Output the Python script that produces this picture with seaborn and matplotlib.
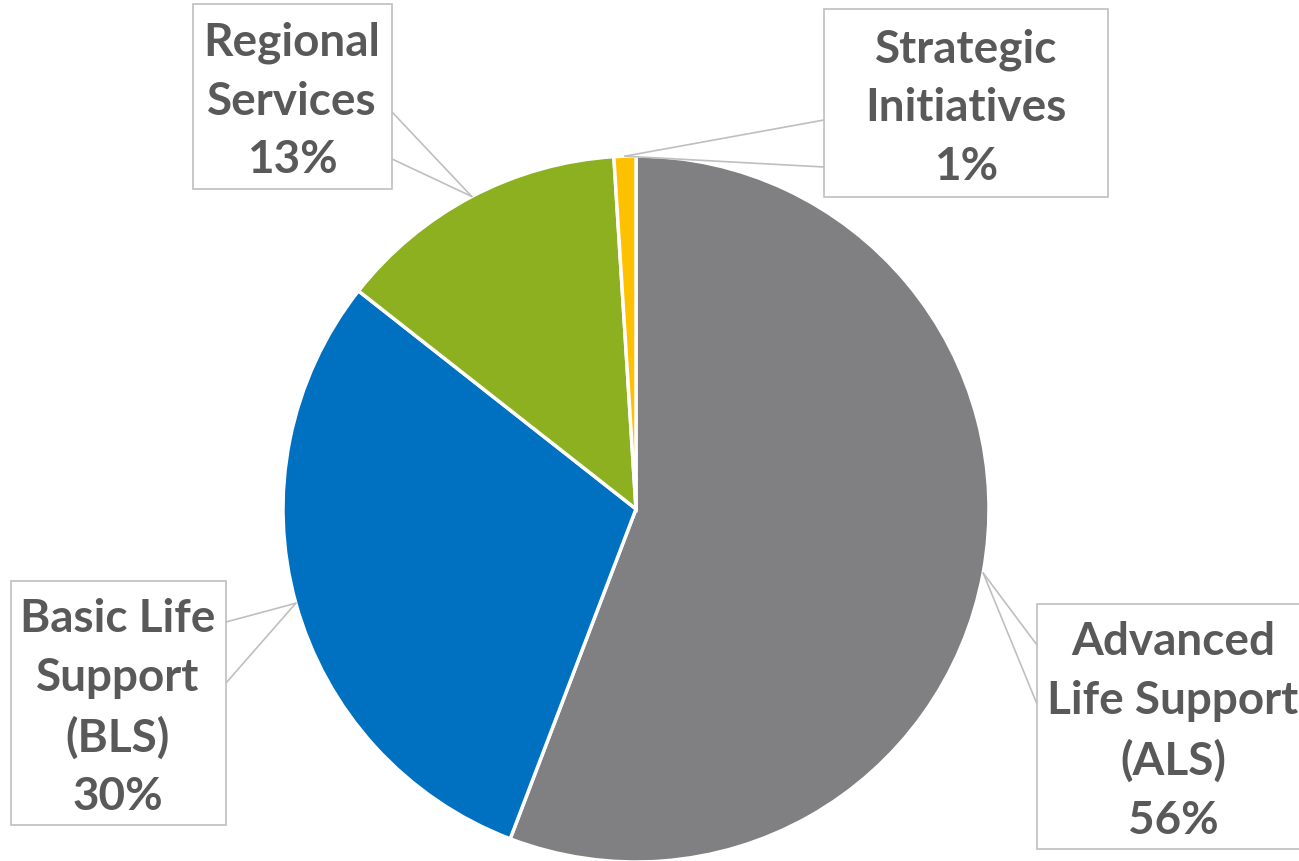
import numpy as np
import matplotlib.pyplot as plt
import seaborn as sns
from matplotlib.patches import Rectangle

categories = ["Advanced\nLife Support\n(ALS)", "Basic Life\nSupport\n(BLS)",
              "Regional\nServices", "Strategic\nInitiatives"]
shares = [55.8, 29.8, 13.4, 1.0]
colors = ["#808082", "#0070C0", "#8DB021", "#FFC000"]

sns.set_theme(style="white")
plt.rcParams["font.family"] = ["Lato", "DejaVu Sans"]

W, H = 1299, 862
fig = plt.figure(figsize=(W / 100, H / 100), dpi=100)
ax = fig.add_axes([0, 0, 1, 1])

cx, cy, r = 636, H - 510, 353
wedges, _ = ax.pie(shares, colors=colors, startangle=90, counterclock=False,
                   center=(cx, cy), radius=r, frame=True,
                   wedgeprops=dict(edgecolor="white", linewidth=2.5))
ax.set_xlim(0, W)
ax.set_ylim(0, H)
ax.set_aspect("equal")
ax.axis("off")

# label boxes: (left, top, right, bottom) in pixels from top, leader side, leader y's
boxes = [
    ((1037, 605, 1320, 850), "left", (646, 705)),
    ((11, 582, 226, 826), "right", (623, 684)),
    ((193, 5, 392, 190), "right", (113, 160)),
    ((824, 10, 1108, 198), "left", (121, 168)),
]
text_x = [1173, 118, 292, 966]

for i, (w, (box, side, (ly1, ly2))) in enumerate(zip(wedges, boxes)):
    l, t, rr, b = box
    ax.add_patch(Rectangle((l, H - b), rr - l, b - t, facecolor="white",
                           edgecolor="#BFBFBF", linewidth=1.2, zorder=3))
    mid = np.deg2rad((w.theta1 + w.theta2) / 2)
    px, py = cx + r * np.cos(mid), cy + r * np.sin(mid)
    ex = l if side == "left" else rr
    for yy in (ly1, ly2):
        ax.plot([ex, px], [H - yy, py], color="#BFBFBF", lw=1.2, zorder=2)
    label = f"{categories[i]}\n{round(shares[i])}%"
    ax.text(text_x[i], H - (t + b) / 2 - 4, label, ha="center", va="center",
            fontsize=33, fontweight="bold", color="#595959",
            linespacing=1.49, zorder=4)

fig.savefig("out.png", dpi=100)
